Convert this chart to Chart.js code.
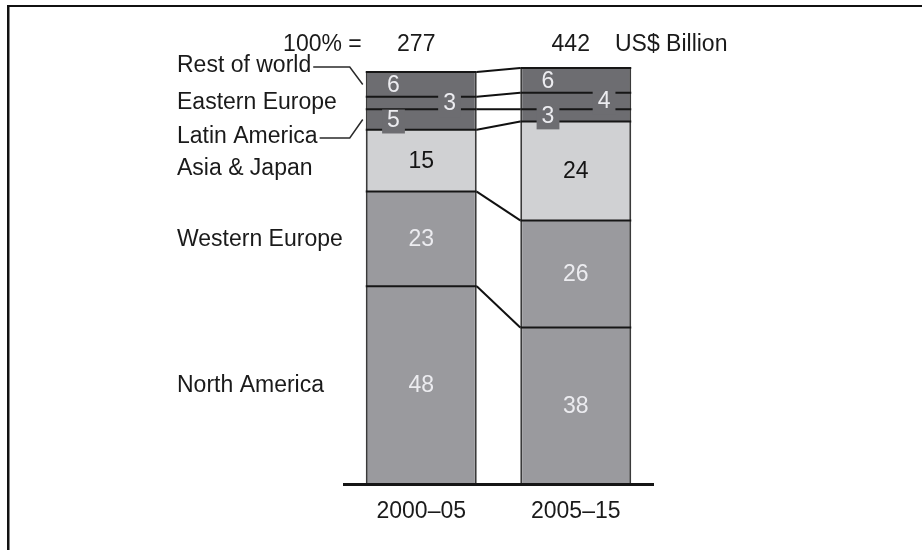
<!DOCTYPE html>
<html>
<head>
<meta charset="utf-8">
<script src="https://cdn.jsdelivr.net/npm/chart.js@4/dist/chart.umd.min.js"></script>
<style>
  html, body { margin: 0; padding: 0; background: #fff; }
  canvas { display: block; }
</style>
</head>
<body>
<canvas id="chart" width="922" height="550"></canvas>
<script>
// Two periods, shares of market size by region (percent of each column's total)
const categories = ['2000–05', '2005–15'];
const totals = [277, 442];            // 100% = US$ Billion
const regions = ['North America', 'Western Europe', 'Asia & Japan', 'Latin America', 'Eastern Europe', 'Rest of world'];
const northAmerica  = [48, 38];
const westernEurope = [23, 26];
const asiaJapan     = [15, 24];
const latinAmerica  = [5, 3];
const easternEurope = [3, 4];
const restOfWorld   = [6, 6];
const seriesValues = [northAmerica, westernEurope, asiaJapan, latinAmerica, easternEurope, restOfWorld];

// Look of each stacked segment, bottom to top
const FONT = '23px "Liberation Sans", Arial, Helvetica, sans-serif';
const DARK = '#6d6d71', MID = '#9a9a9e', LIGHT = '#d0d1d3';
const LIGHT_TEXT = '#ececf0', DARK_TEXT = '#141414';
const seriesStyle = [
  { fill: MID,   text: LIGHT_TEXT, at: 0.5 },
  { fill: MID,   text: LIGHT_TEXT, at: 0.5 },
  { fill: LIGHT, text: DARK_TEXT,  at: 0.5 },
  { fill: DARK,  text: LIGHT_TEXT, at: 0.25, box: true, leader: true },
  { fill: DARK,  text: LIGHT_TEXT, at: 0.755, box: true },
  { fill: DARK,  text: LIGHT_TEXT, at: 0.25, leader: true }
];
// Side labels for the thin segments are spread out in a column; the tall ones sit level with their segment
const sideLabelY = [null, null, 169, 137, 103, 66];
const SIDE_X = 177;

const annotate = {
  id: 'annotate',
  afterDatasetsDraw(chart) {
    const { ctx, chartArea, scales } = chart;
    const metas = chart.data.datasets.map((_, i) => chart.getDatasetMeta(i));
    const bars = metas.map(m => m.data);
    const baseY = scales.y.getPixelForValue(0);
    ctx.save();

    // dividing lines across each column at every segment top
    ctx.strokeStyle = '#161616';
    ctx.lineWidth = 2;
    bars.forEach(seg => {
      seg.forEach(el => {
        ctx.beginPath();
        ctx.moveTo(el.x - el.width / 2, el.y);
        ctx.lineTo(el.x + el.width / 2, el.y);
        ctx.stroke();
      });
    });

    // connectors between the two columns at each segment top
    ctx.strokeStyle = '#111';
    ctx.lineWidth = 2;
    bars.forEach(seg => {
      const a = seg[0], b = seg[1];
      ctx.beginPath();
      ctx.moveTo(a.x + a.width / 2, a.y);
      ctx.lineTo(b.x - b.width / 2, b.y);
      ctx.stroke();
    });

    // baseline
    ctx.fillStyle = '#151515';
    ctx.fillRect(chartArea.left - 1, baseY - 1, chartArea.right - chartArea.left + 2, 3);

    // value labels inside the segments
    ctx.font = FONT;
    ctx.textAlign = 'center';
    ctx.textBaseline = 'middle';
    bars.forEach((seg, d) => {
      const st = seriesStyle[d];
      seg.forEach((el, i) => {
        const left = el.x - el.width / 2;
        const x = left + el.width * st.at;
        const y = (el.y + el.base) / 2 + 1;
        const txt = String(seriesValues[d][i]);
        if (st.box) {
          const w = ctx.measureText(txt).width + 10;
          ctx.fillStyle = st.fill;
          ctx.fillRect(x - w / 2, y - 11, w, 24);
        }
        ctx.fillStyle = st.text;
        ctx.fillText(txt, x, y);
      });
    });

    // region names on the left, with leader lines for the thin segments
    ctx.textAlign = 'left';
    ctx.strokeStyle = '#2a2a2a';
    ctx.lineWidth = 1.5;
    bars.forEach((seg, d) => {
      const el = seg[0];
      const segMid = (el.y + el.base) / 2;
      const y = sideLabelY[d] !== null ? sideLabelY[d] : segMid + 1;
      ctx.fillStyle = '#1a1a1a';
      ctx.fillText(regions[d], SIDE_X, y);
      if (seriesStyle[d].leader) {
        const tx = SIDE_X + ctx.measureText(regions[d]).width + 2;
        const barLeft = el.x - el.width / 2;
        ctx.beginPath();
        ctx.moveTo(tx, y + 1);
        ctx.lineTo(barLeft - 16, y + 1);
        ctx.lineTo(barLeft - 3, segMid);
        ctx.stroke();
      }
    });

    // column totals above the bars
    const top0 = bars[0][0], top1 = bars[0][1];
    ctx.fillStyle = '#1a1a1a';
    ctx.textAlign = 'right';
    ctx.fillText('100% =', top0.x - top0.width / 2 - 4, 45);
    ctx.textAlign = 'center';
    totals.forEach((t, i) => ctx.fillText(String(t), bars[0][i].x - 5, 45));
    const lastW = ctx.measureText(String(totals[1])).width;
    ctx.textAlign = 'left';
    ctx.fillText('US$ Billion', top1.x - 5 + lastW / 2 + 25, 45);

    // period labels under the bars
    ctx.textAlign = 'center';
    categories.forEach((c, i) => ctx.fillText(c, scales.x.getPixelForValue(i), 512));

    // page frame
    ctx.fillStyle = '#111';
    ctx.fillRect(7, 5, 922 - 7, 2);
    ctx.fillRect(7, 5, 2.5, 550 - 5);
    ctx.restore();
  }
};

new Chart(document.getElementById('chart'), {
  type: 'bar',
  data: {
    labels: categories,
    datasets: seriesValues.map((vals, d) => ({
      label: regions[d],
      data: vals,
      backgroundColor: seriesStyle[d].fill,
      borderColor: '#3a3a3a',
      borderWidth: { top: 0, bottom: 0, left: 2, right: 2 },
      borderSkipped: false,
      inflateAmount: 0,
      barPercentage: 0.7184,
      categoryPercentage: 1
    }))
  },
  options: {
    responsive: false,
    animation: false,
    events: [],
    layout: { padding: { left: 344, right: 269, top: 68, bottom: 66 } },
    scales: {
      x: { stacked: true, display: false },
      y: { stacked: true, display: false, min: 0, max: 101 }
    },
    plugins: { legend: { display: false }, tooltip: { enabled: false } }
  },
  plugins: [annotate]
});
</script>
</body>
</html>
